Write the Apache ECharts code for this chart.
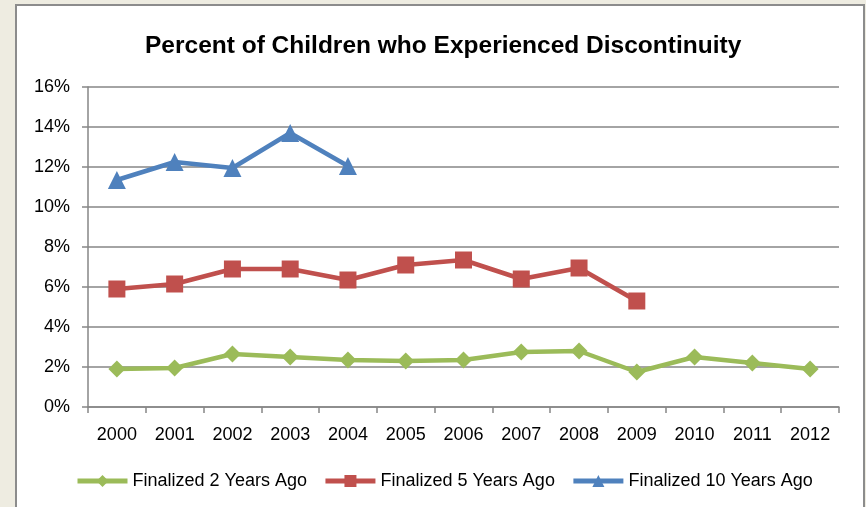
<!DOCTYPE html>
<html><head><meta charset="utf-8">
<script src="https://cdn.jsdelivr.net/npm/echarts@6/dist/echarts.min.js"></script>
<style>html,body{margin:0;padding:0;background:#EEECE1;}#c{width:866px;height:507px;}</style>
</head><body><div id="c"></div>
<script>
const years = ['2000','2001','2002','2003','2004','2005','2006','2007','2008','2009','2010','2011','2012'];
const finalized2 = [1.9, 1.95, 2.65, 2.5, 2.35, 2.3, 2.35, 2.75, 2.8, 1.75, 2.5, 2.2, 1.9];
const finalized5 = [5.9, 6.15, 6.9, 6.9, 6.35, 7.1, 7.35, 6.4, 6.95, 5.3, null, null, null];
const finalized10 = [11.35, 12.25, 11.95, 13.7, 12.05, null, null, null, null, null, null, null, null];
const seriesNames = ['Finalized 2 Years Ago', 'Finalized 5 Years Ago', 'Finalized 10 Years Ago'];

const chart = echarts.init(document.getElementById('c'));
const font = 'Liberation Sans';
function mk(name, data, color, symbol, size) {
  return {
    name, type: 'line', data, symbol, symbolSize: size,
    lineStyle: { width: 4.5, color }, itemStyle: { color },
    showAllSymbol: true, connectNulls: false, animation: false
  };
}
chart.setOption({
  animation: false,
  graphic: [{ type: 'rect', z: -10, shape: { x: 16, y: 5, width: 848, height: 520 },
    style: { fill: '#ffffff', stroke: '#8c8c8c', lineWidth: 2 } }],
  title: { text: 'Percent of Children who Experienced Discontinuity', left: 140, top: 29,
    textStyle: { fontFamily: font, fontWeight: 'bold', fontSize: 24.5, color: '#000' } },
  grid: { left: 88, right: 27, top: 87, height: 320 },
  legend: { left: 70, top: 467, itemWidth: 50, itemHeight: 15, itemGap: 16,
    lineStyle: { width: 5 },
    textStyle: { fontFamily: font, fontSize: 18, color: '#000' },
    data: seriesNames },
  xAxis: { type: 'category', data: years, boundaryGap: true,
    axisLine: { lineStyle: { color: '#868686', width: 1.5 } },
    axisTick: { show: true, length: 6, alignWithLabel: false, lineStyle: { color: '#868686', width: 1.5 } },
    axisLabel: { fontFamily: font, fontSize: 18, color: '#000', margin: 19 } },
  yAxis: { type: 'value', min: 0, max: 16, interval: 2,
    axisLine: { show: true, lineStyle: { color: '#868686', width: 1.5 } },
    axisTick: { show: true, length: 6, lineStyle: { color: '#868686', width: 1.5 } },
    splitLine: { lineStyle: { color: '#868686', width: 1.5 } },
    axisLabel: { fontFamily: font, fontSize: 18, color: '#000', margin: 18, formatter: v => v + '%' } },
  series: [
    mk(seriesNames[0], finalized2, '#9BBB59', 'diamond', 17),
    mk(seriesNames[1], finalized5, '#C0504D', 'rect', 17),
    mk(seriesNames[2], finalized10, '#4F81BD', 'triangle', 18)
  ]
});
</script></body></html>
